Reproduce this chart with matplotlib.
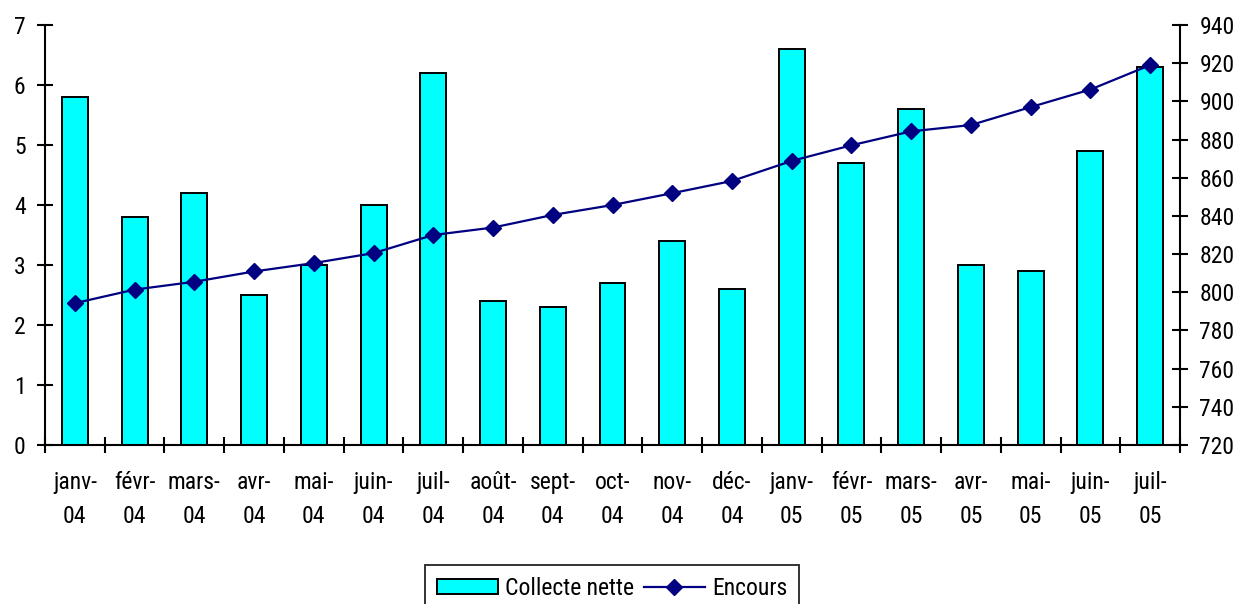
import matplotlib
matplotlib.use("Agg")
import matplotlib.pyplot as plt
from matplotlib import font_manager
import numpy as np

names = {f.name for f in font_manager.fontManager.ttflist}
fam = next((n for n in ['Roboto Condensed', 'Archivo Narrow', 'PT Sans Narrow', 'Liberation Sans']
            if n in names), 'DejaVu Sans')
plt.rcParams['font.family'] = [fam, 'DejaVu Sans']

months = ["janv-\n04", "févr-\n04", "mars-\n04", "avr-\n04", "mai-\n04", "juin-\n04", "juil-\n04",
          "août-\n04", "sept-\n04", "oct-\n04", "nov-\n04", "déc-\n04", "janv-\n05", "févr-\n05",
          "mars-\n05", "avr-\n05", "mai-\n05", "juin-\n05", "juil-\n05"]
collecte = [5.8, 3.8, 4.2, 2.5, 3.0, 4.0, 6.2, 2.4, 2.3, 2.7, 3.4, 2.6, 6.6, 4.7, 5.6, 3.0, 2.9, 4.9, 6.3]
encours = [794.3, 801.4, 805.5, 810.9, 815.3, 820.5, 830.0, 833.9, 840.5, 845.7, 851.9, 858.3,
           868.8, 877.0, 884.3, 887.6, 897.0, 906.2, 919.0]

FS = 17
fig = plt.figure(figsize=(12.4, 6.04), dpi=100)
ax = fig.add_axes([45/1240, 1-445/604, 1135/1240, 420/604])
x = np.arange(len(months))
bars = ax.bar(x, collecte, width=0.435, color='#00FFFF', edgecolor='black', linewidth=1.4,
              label='Collecte nette', zorder=2)
ax.set_xlim(-0.5, len(months) - 0.5)
ax.set_ylim(0, 7)
ax.set_yticks(range(0, 8))
ax.spines['top'].set_visible(False)
ax.spines['right'].set_visible(False)
for s in ['left', 'bottom']:
    ax.spines[s].set_linewidth(1.5)
ax.set_xticks(np.arange(-0.5, len(months)), labels=[''] * (len(months) + 1))
ax.set_xticks(x, labels=months, minor=True)
for lab in ax.get_xticklabels(minor=True):
    lab.set_linespacing(1.6)
ax.tick_params(axis='x', which='major', direction='inout', length=12, width=1.5)
ax.tick_params(axis='x', which='minor', length=0, pad=19, labelsize=FS)
ax.tick_params(axis='y', direction='inout', length=12, width=1.5, labelsize=FS, pad=8)

ax2 = ax.twinx()
line, = ax2.plot(x, encours, color='#000080', marker='D', markersize=8, linewidth=1.6,
                 label='Encours', zorder=3)
ax2.set_ylim(720, 940)
ax2.set_yticks(range(720, 941, 20))
ax2.spines['top'].set_visible(False)
ax2.spines['left'].set_visible(False)
ax2.spines['bottom'].set_visible(False)
ax2.spines['right'].set_linewidth(1.5)
ax2.tick_params(axis='y', direction='inout', length=12, width=1.5, labelsize=FS, pad=8)

leg = fig.legend([bars, line], ['Collecte nette', 'Encours'], loc='upper center',
                 bbox_to_anchor=(612/1240, 1-565/604), ncol=2, frameon=True, fancybox=False,
                 fontsize=FS, handlelength=2.6, handleheight=0.6, columnspacing=0.4,
                 handletextpad=0.3, borderpad=0.5, borderaxespad=0)
leg.get_frame().set_edgecolor('black')
leg.get_frame().set_linewidth(1.4)

fig.savefig('out.png', dpi=100)
